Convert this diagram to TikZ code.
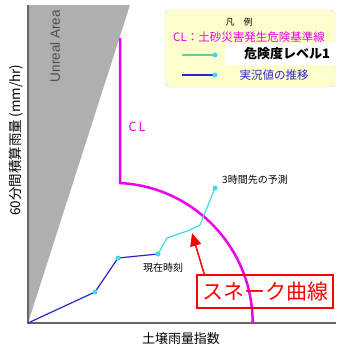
\documentclass[tikz,border=0pt]{standalone}
\usepackage{fontspec}
\newfontfamily\jp{Noto Sans CJK JP}
\newfontfamily\arial{Liberation Sans}
\usetikzlibrary{arrows.meta}

\definecolor{clmag}{RGB}{235,0,235}
\definecolor{obsblue}{RGB}{40,40,200}
\definecolor{predcyan}{RGB}{60,220,230}
\definecolor{legyellow}{RGB}{255,255,205}
\definecolor{leggreen}{RGB}{100,205,160}
\definecolor{areagray}{RGB}{175,175,175}

\begin{document}
\begin{tikzpicture}[x=1pt,y=-1pt,
  dot/.style={circle,fill=predcyan,inner sep=0pt,minimum size=5pt},
  txt/.style={inner sep=0pt,font=\jp\fontsize{#1}{#1}\selectfont},
  txt/.default=10]
\useasboundingbox (0,0) rectangle (337,346);

% unreal area and axes
\fill[areagray] (28,323) -- (28,5) -- (130,5) -- cycle;
\node[rotate=90,inner sep=0pt,text=black!70,font=\arial\fontsize{13.5}{13.5}\selectfont] (unreal) at (55,46) {Unreal Area};
\draw[gray!80!black, line width=1.5pt] (28,5) -- (28,323) -- (336,323);
\node[txt=13.5, rotate=90] (ylab) at (16,140) {60分間積算雨量\,(mm/hr)};
\node[txt=13] (xlab) at (181,339) {土壌雨量指数};

% critical line
\draw[clmag, line width=2.5pt] (120,38) -- (120,183) arc[start angle=-87,end angle=0,radius=140];
\node[txt=12.5, text=clmag] (cl) at (137,127) {C\,L};

% snake curve
\coordinate (p0) at (28,323);
\coordinate (p1) at (95,292);
\coordinate (p2) at (118,258);
\coordinate (p3) at (158,254);
\coordinate (q1) at (167,238);
\coordinate (q2) at (190,230);
\coordinate (q3) at (200,225);
\coordinate (q4) at (215,188);
\draw[obsblue, line width=1.2pt] (p0) -- (p1) -- (p2) -- (p3);
\draw[predcyan, line width=1.2pt] (p3) -- (q1) -- (q2) -- (q3) -- (q4);
\foreach \p in {p1,p2,p3,q4}
  \node[dot] (d-\p) at (\p) {};
\node[txt=10] (now) at (163,268) {現在時刻};
\node[txt=10] (fcst) at (255,180) {3時間先の予測};

% callout
\node[draw=red, line width=1.5pt, text=red, txt=21, minimum width=136pt, minimum height=33pt] (snake) at (265,291.5) {スネーク曲線};
\coordinate (tip) at (192,233);
\draw[red, line width=1.5pt, -{Triangle[length=13pt,width=11pt]}] ([xshift=8pt]snake.north west) -- (tip);

% legend
\node[fill=legyellow, draw=gray!30, rounded corners=4pt, minimum width=170pt, minimum height=77pt] (legend) at (250,48.5) {};
\node[txt=9] (legtitle) at (239,22) {凡\quad 例};
\node[txt=11.5, text=clmag] (legcl) at (249,37) {CL：土砂災害発生危険基準線};
\fill[white] (225,43) rectangle (337,65);
\node[inner sep=0pt, font=\jp\bfseries\fontsize{13}{13}\selectfont] (lvl) at (287,54) {危険度レベル1};
\coordinate (g0) at (182,55);
\coordinate (g1) at (215,55);
\draw[leggreen, line width=1.5pt] (g0) -- (g1);
\node[dot] (d-g1) at (g1) {};
\coordinate (b0) at (182,75);
\coordinate (b1) at (215,75);
\draw[obsblue, line width=1.2pt] (b0) -- (b1);
\node[dot] (d-b1) at (b1) {};
\node[txt=11.5, text=obsblue] (legobs) at (274,75) {実況値の推移};
\end{tikzpicture}
\end{document}
